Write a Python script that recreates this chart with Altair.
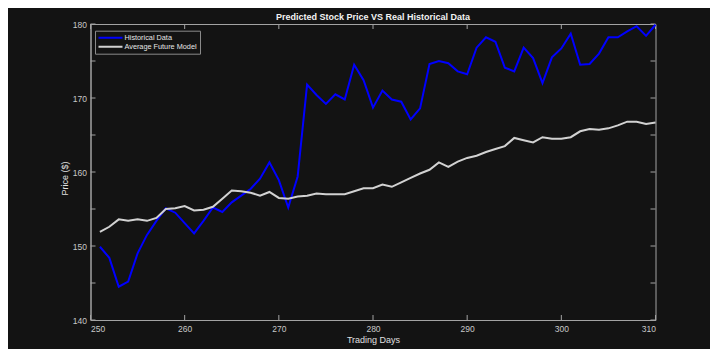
import altair as alt
import pandas as pd

days = list(range(251, 311))
historical = [149.9, 148.4, 144.5, 145.2, 149.0, 151.5, 153.4, 155.1, 154.5, 153.1,
              151.7, 153.4, 155.2, 154.6, 155.9, 156.8, 157.7, 159.1, 161.3, 158.9,
              155.2, 159.4, 171.8, 170.4, 169.2, 170.5, 169.8, 174.5, 172.4, 168.7,
              171.0, 169.8, 169.5, 167.1, 168.6, 174.6, 175.0, 174.7, 173.6, 173.2,
              176.8, 178.2, 177.6, 174.1, 173.6, 176.8, 175.4, 172.0, 175.5, 176.7,
              178.7, 174.5, 174.6, 176.0, 178.2, 178.2, 179.0, 179.7, 178.4, 179.9]
model = [151.9, 152.6, 153.6, 153.4, 153.6, 153.4, 153.8, 155.0, 155.1, 155.4,
         154.8, 154.9, 155.3, 156.4, 157.5, 157.4, 157.2, 156.8, 157.3, 156.5,
         156.4, 156.7, 156.8, 157.1, 157.0, 157.0, 157.0, 157.4, 157.8, 157.8,
         158.3, 158.0, 158.6, 159.2, 159.8, 160.3, 161.3, 160.7, 161.4, 161.9,
         162.2, 162.7, 163.1, 163.5, 164.6, 164.3, 164.0, 164.7, 164.5, 164.5,
         164.7, 165.5, 165.8, 165.7, 165.9, 166.3, 166.8, 166.8, 166.5, 166.7]
series_names = ["Historical Data", "Average Future Model"]
series_colors = ["#0000ff", "#d2d2d2"]
x_ticks = [250, 260, 270, 280, 290, 300, 310]
y_ticks = [140, 145, 150, 155, 160, 165, 170, 175, 180]

W, H = 565, 296
BG = "#131313"
AX = "#a3a3a3"
FONT = "Liberation Sans"

df = pd.concat([
    pd.DataFrame({"day": days, "price": historical, "series": series_names[0]}),
    pd.DataFrame({"day": days, "price": model, "series": series_names[1]}),
])

xscale = alt.Scale(domain=[250, 310], nice=False, zero=False)
yscale = alt.Scale(domain=[140, 180], nice=False, zero=False)

lines = alt.Chart(df).mark_line(strokeWidth=2).encode(
    x=alt.X("day:Q", scale=xscale,
            axis=alt.Axis(title="Trading Days", values=x_ticks, ticks=False, tickSize=0,
                          labelPadding=4, grid=False, titleY=19.5, titleBaseline="middle")),
    y=alt.Y("price:Q", scale=yscale,
            axis=alt.Axis(title="Price ($)", values=y_ticks, ticks=False, tickSize=0,
                          labelPadding=4, grid=False, titleX=-26.5, titleY=154,
                          titleBaseline="middle")),
    color=alt.Color("series:N",
                    scale=alt.Scale(domain=series_names, range=series_colors),
                    legend=alt.Legend(title=None, orient="none", legendX=4.5, legendY=6.7,
                                      symbolType="stroke", symbolSize=576,
                                      symbolStrokeWidth=2, clipHeight=9, rowPadding=0,
                                      labelOffset=1, labelFontSize=7.3, labelColor="#e6e6e6",
                                      labelFont=FONT, padding=2.5, strokeColor="#8a8a8a",
                                      fillColor=BG, cornerRadius=0)),
    order=alt.Order("day:Q"),
)

xt = pd.DataFrame({"t": x_ticks})
yt = pd.DataFrame({"t": y_ticks})
tick_style = dict(color=AX, strokeWidth=1)
xb = alt.Chart(xt).mark_rule(**tick_style).encode(x=alt.X("t:Q", scale=xscale), y=alt.value(H), y2=alt.value(H - 5))
xtp = alt.Chart(xt).mark_rule(**tick_style).encode(x=alt.X("t:Q", scale=xscale), y=alt.value(0), y2=alt.value(5))
yl = alt.Chart(yt).mark_rule(**tick_style).encode(y=alt.Y("t:Q", scale=yscale), x=alt.value(0), x2=alt.value(5))
yr = alt.Chart(yt).mark_rule(**tick_style).encode(y=alt.Y("t:Q", scale=yscale), x=alt.value(W), x2=alt.value(W - 5))

chart = alt.layer(xb, xtp, yl, yr, lines).properties(
    width=W, height=H,
    title=alt.TitleParams("Predicted Stock Price VS Real Historical Data", fontSize=9,
                          font=FONT, fontWeight="bold", color="#f2f2f2", offset=-2,
                          frame="group"),
    autosize=alt.AutoSizeParams(type="none"),
    padding={"left": 82.5, "top": 16, "right": 54, "bottom": 29},
    background=BG,
).configure_view(
    stroke=AX, strokeWidth=1, fill=BG
).configure_axis(
    domainColor=AX, domainWidth=1, labelColor="#c8c8c8", labelFontSize=8.5,
    labelFont=FONT, titleColor="#e0e0e0", titleFontSize=9, titleFont=FONT,
    titleFontWeight="normal"
)

chart.save("out.html", embed_options={"renderer": "svg", "actions": False})
